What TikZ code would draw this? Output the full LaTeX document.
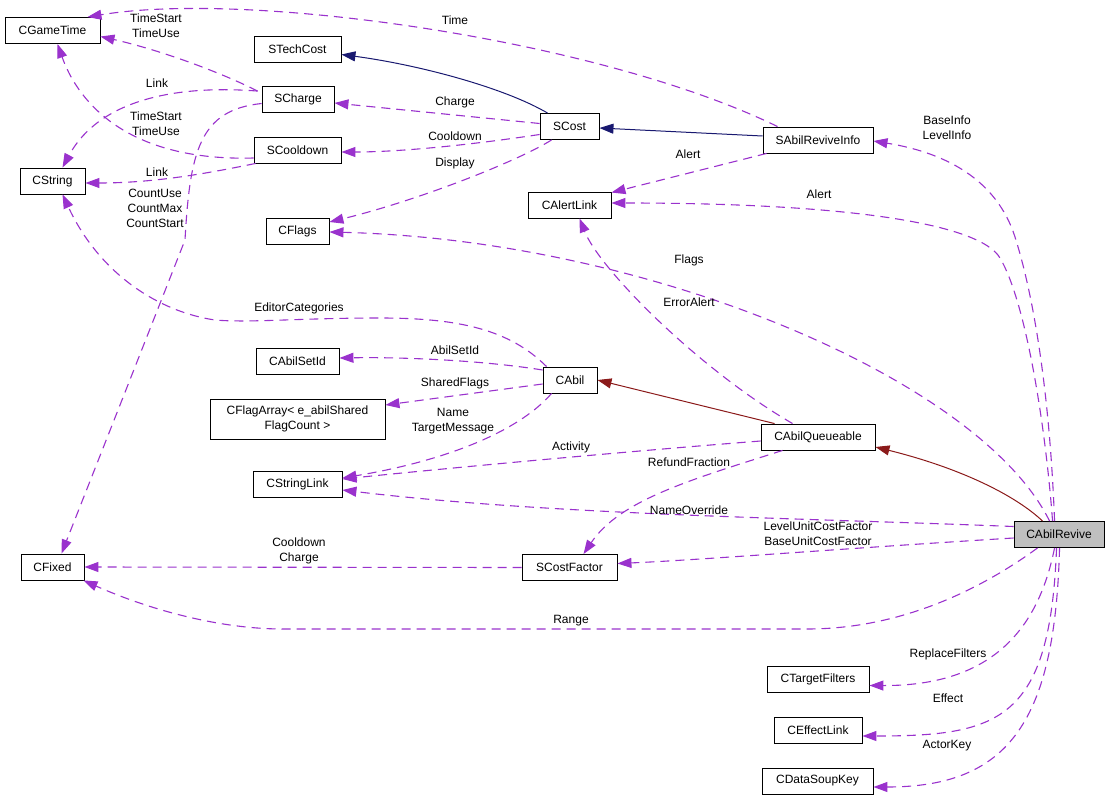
\documentclass[tikz,border=0pt]{standalone}
\usepackage{fontspec}
\setmainfont{Liberation Sans}
\usetikzlibrary{arrows.meta}
\definecolor{usecol}{HTML}{9A32CD}
\definecolor{navyc}{HTML}{191970}
\definecolor{dredc}{HTML}{8B1A1A}
\definecolor{boxgray}{HTML}{BFBFBF}
\begin{document}
\begin{tikzpicture}[x=1pt,y=-1pt,
  font=\fontsize{12}{15}\selectfont,
  cls/.style={draw=black, line width=0.9pt, fill=white, inner sep=0pt, minimum height=26pt, align=center},
  rootcls/.style={cls, fill=boxgray},
  usedge/.style={draw=usecol, line width=1.1pt, dash pattern=on 9pt off 6pt, -{Triangle[length=14pt,width=10pt]}},
  inhnavy/.style={draw=navyc, line width=1pt, -{Triangle[length=14pt,width=10pt]}},
  inhred/.style={draw=dredc, line width=1pt, -{Triangle[length=14pt,width=10pt]}},
  lbl/.style={inner sep=0pt, align=center}
]
\useasboundingbox (0,0) rectangle (1109,800);

% nodes
\node[cls, minimum width=95pt] (CGameTime) at (52.5,30.5) {CGameTime};
\node[cls, minimum width=87pt] (STechCost) at (297.5,49.5) {STechCost};
\node[cls, minimum width=72pt] (SCharge) at (298,99.5) {SCharge};
\node[cls, minimum width=87pt] (SCooldown) at (297.5,150) {SCooldown};
\node[cls, minimum width=65pt] (CString) at (52.5,181) {CString};
\node[cls, minimum width=63pt] (CFlags) at (297.5,231.5) {CFlags};
\node[cls, minimum width=59pt] (SCost) at (569.5,126.5) {SCost};
\node[cls, minimum width=83pt] (CAlertLink) at (569.5,205) {CAlertLink};
\node[cls, minimum width=110pt] (SAbilReviveInfo) at (818,140) {SAbilReviveInfo};
\node[cls, minimum width=83pt] (CAbilSetId) at (297.5,361) {CAbilSetId};
\node[cls, minimum width=175pt, minimum height=40pt] (CFlagArray) at (297.5,419) {CFlagArray< e\_abilShared\\FlagCount >};
\node[cls, minimum width=89pt] (CStringLink) at (297.5,484) {CStringLink};
\node[cls, minimum width=54pt] (CAbil) at (570,380) {CAbil};
\node[cls, minimum width=114pt] (CAbilQueueable) at (818,437) {CAbilQueueable};
\node[rootcls, minimum width=90pt] (CAbilRevive) at (1059,534.5) {CAbilRevive};
\node[cls, minimum width=63pt] (CFixed) at (52.5,567) {CFixed};
\node[cls, minimum width=95pt] (SCostFactor) at (569.5,567.5) {SCostFactor};
\node[cls, minimum width=102pt] (CTargetFilters) at (818,679.5) {CTargetFilters};
\node[cls, minimum width=88pt] (CEffectLink) at (818,730.5) {CEffectLink};
\node[cls, minimum width=111pt] (CDataSoupKey) at (817.5,781) {CDataSoupKey};

% inheritance
\draw[inhnavy] ([shift={(8,0)}]SCost.north west) .. controls (505,88) and (420,65) .. ([shift={(0,5)}]STechCost.east);
\draw[inhnavy] ([shift={(0,-4)}]SAbilReviveInfo.west) -- ([shift={(0,1.5)}]SCost.east);
\draw[inhred] ([shift={(14,0)}]CAbilQueueable.north west) -- (CAbil.east);
\draw[inhred] ([shift={(29,0)}]CAbilRevive.north west) .. controls (1015,495) and (960,468) .. ([shift={(0,10)}]CAbilQueueable.east);

% usage
\draw[usedge] ([shift={(-4,5)}]SCharge.north west) .. controls (220,72) and (160,50) .. ([shift={(0,6)}]CGameTime.east);
\draw[usedge] ([shift={(0,8)}]SCooldown.west) .. controls (110,162) and (72,85) .. ([shift={(5,0)}]CGameTime.south);
\draw[usedge] ([shift={(-4,5)}]SCharge.north west) .. controls (180,85) and (100,98) .. ([shift={(10,0)}]CString.north);
\draw[usedge] ([shift={(2,0)}]SCooldown.south west) .. controls (200,175) and (150,183) .. ([shift={(0,2)}]CString.east);
\draw[usedge] ([shift={(0,4)}]SCharge.west) .. controls (200,110) and (190,150) .. (185,240) -- ([shift={(9,0)}]CFixed.north);
\draw[usedge] ([shift={(0,-3)}]SCost.west) -- ([shift={(0,3.5)}]SCharge.east);
\draw[usedge] ([shift={(0,8)}]SCost.west) .. controls (470,145) and (400,152) .. ([shift={(0,2)}]SCooldown.east);
\draw[usedge] ([shift={(12,0)}]SCost.south west) .. controls (520,160) and (420,200) .. ([shift={(0,-9.5)}]CFlags.east);
\draw[usedge] ([shift={(15,0)}]SAbilReviveInfo.north west) .. controls (600,40) and (250,-10) .. ([shift={(-13,0)}]CGameTime.north east);
\draw[usedge] ([shift={(4,0)}]SAbilReviveInfo.south west) -- ([shift={(0,1)}]CAlertLink.north east);
\draw[usedge] ([shift={(41,0)}]CAbilRevive.north west) .. controls (1050,400) and (1035,300) .. (1015,237) .. controls (1000,190) and (960,155) .. ([shift={(0,1)}]SAbilReviveInfo.east);
\draw[usedge] ([shift={(39,0)}]CAbilRevive.north west) .. controls (1045,420) and (1025,300) .. (1000,258) .. controls (980,224) and (850,203) .. ([shift={(0,-2)}]CAlertLink.east);
\draw[usedge] ([shift={(36,0)}]CAbilRevive.north west) .. controls (980,380) and (650,240) .. ([shift={(0,0.5)}]CFlags.east);
\draw[usedge] ([shift={(32,0)}]CAbilQueueable.north west) .. controls (700,370) and (600,270) .. ([shift={(10,0)}]CAlertLink.south);
\draw[usedge] ([shift={(4,0)}]CAbil.north west) .. controls (510,330) and (460,318) .. (380,318) .. controls (300,318) and (250,323) .. (215,320) .. controls (160,312) and (100,275) .. ([shift={(10,0)}]CString.south);
\draw[usedge] ([shift={(0,-10)}]CAbil.west) .. controls (480,360) and (400,357) .. ([shift={(0,-3)}]CAbilSetId.east);
\draw[usedge] ([shift={(0,4)}]CAbil.west) -- ([shift={(0,-14)}]CFlagArray.east);
\draw[usedge] ([shift={(9,0)}]CAbil.south west) .. controls (520,430) and (450,460) .. ([shift={(0,-6)}]CStringLink.east);
\draw[usedge] ([shift={(0,4)}]CAbilQueueable.west) .. controls (620,452) and (450,468) .. ([shift={(0,-5)}]CStringLink.east);
\draw[usedge] ([shift={(22,0)}]CAbilQueueable.south west) .. controls (690,480) and (620,500) .. ([shift={(14,0)}]SCostFactor.north);
\draw[usedge] ([shift={(0,-8)}]CAbilRevive.west) .. controls (800,518) and (550,515) .. ([shift={(0,6)}]CStringLink.east);
\draw[usedge] ([shift={(0,3.5)}]CAbilRevive.west) .. controls (850,548) and (700,560) .. ([shift={(0,-4)}]SCostFactor.east);
\draw[usedge] (SCostFactor.west) -- (CFixed.east);
\draw[usedge] ([shift={(24,0)}]CAbilRevive.south west) .. controls (980,590) and (900,629) .. (807,629) -- (283,629) .. controls (220,629) and (150,610) .. ([shift={(-1,0)}]CFixed.south east);
\draw[usedge] ([shift={(41,0)}]CAbilRevive.south west) .. controls (1040,620) and (1000,686) .. ([shift={(0,6)}]CTargetFilters.east);
\draw[usedge] ([shift={(43,0)}]CAbilRevive.south west) .. controls (1050,720) and (1000,736) .. ([shift={(0,5.5)}]CEffectLink.east);
\draw[usedge] ([shift={(46,0)}]CAbilRevive.south west) .. controls (1055,720) and (1010,787) .. ([shift={(0,6)}]CDataSoupKey.east);

% labels
\node[lbl] (l1) at (156,26) {TimeStart\\TimeUse};
\node[lbl] (l2) at (157,83) {Link};
\node[lbl] (l3) at (156,124) {TimeStart\\TimeUse};
\node[lbl] (l4) at (157,172) {Link};
\node[lbl] (l5) at (155,208) {CountUse\\CountMax\\CountStart};
\node[lbl] (l6) at (455,102) {Charge};
\node[lbl] (l7) at (455,136) {Cooldown};
\node[lbl] (l8) at (455,163) {Display};
\node[lbl] (l9) at (455,20) {Time};
\node[lbl] (l10) at (688,154) {Alert};
\node[lbl] (l11) at (947,128) {BaseInfo\\LevelInfo};
\node[lbl] (l12) at (819,194) {Alert};
\node[lbl] (l13) at (689,260) {Flags};
\node[lbl] (l14) at (689,302) {ErrorAlert};
\node[lbl] (l15) at (299,308) {EditorCategories};
\node[lbl] (l16) at (455,350) {AbilSetId};
\node[lbl] (l17) at (455,383) {SharedFlags};
\node[lbl] (l18) at (453,421) {Name\\TargetMessage};
\node[lbl] (l19) at (571,447) {Activity};
\node[lbl] (l20) at (689,462) {RefundFraction};
\node[lbl] (l21) at (689,510) {NameOverride};
\node[lbl] (l22) at (818,534) {LevelUnitCostFactor\\BaseUnitCostFactor};
\node[lbl] (l23) at (299,551) {Cooldown\\Charge};
\node[lbl] (l24) at (571,621) {Range};
\node[lbl] (l25) at (948,654) {ReplaceFilters};
\node[lbl] (l26) at (948,698) {Effect};
\node[lbl] (l27) at (947,746) {ActorKey};
\end{tikzpicture}
\end{document}
